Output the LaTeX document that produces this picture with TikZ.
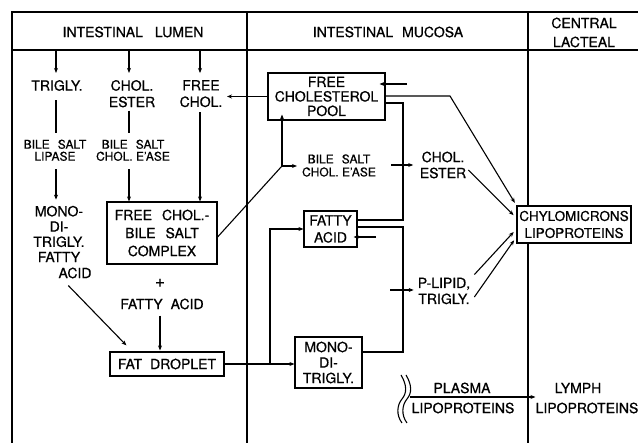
\documentclass[tikz,border=0pt]{standalone}
\usepackage{fontspec}
\setmainfont{TeX Gyre Heros}[FakeBold=0.7]
\usetikzlibrary{arrows.meta,calc}
\newcommand{\wgap}{\hspace{8pt}}
\begin{document}
\begin{tikzpicture}[x=1pt,y=-1pt,
  every node/.style={inner sep=0pt, align=center, font=\fontsize{14}{15}\selectfont},
  small/.style={font=\fontsize{12}{12}\selectfont},
  box/.style={draw, line width=1.2pt, fill=white, inner sep=0pt},
  ln/.style={line width=1.1pt},
  arr/.style={ln, -{Stealth[length=5pt,width=4pt]}},
]
\fill[white] (0,0) rectangle (638,443);
\useasboundingbox (0,0) rectangle (638,443);

% frame
\draw[ln] (12,443) -- (12,12) -- (638,12);
\draw[ln] (12,50) -- (638,50);
\draw[ln] (247,12) -- (247,443);
\draw[ln] (528,12) -- (528,443);

% headers
\node (hl) at (133,32) {INTESTINAL\hspace{12pt}LUMEN};
\node (hm) at (388,32) {INTESTINAL\hspace{9pt}MUCOSA};
\node[font=\fontsize{14}{19}\selectfont] (hc) at (584,32.5) {CENTRAL\\LACTEAL};

% lumen
\node (trigly) at (57,85.5) {TRIGLY.};
\node[font=\fontsize{14}{16.5}\selectfont] (cest1) at (132,93.7) {CHOL.\\ESTER};
\node[font=\fontsize{14}{16.5}\selectfont] (fchol) at (201,93.7) {FREE\\CHOL.};
\node[small] (bsl) at (55,150.3) {BILE\wgap SALT\\LIPASE};
\node[small] (bsc) at (133,150.3) {BILE\wgap SALT\\CHOL.\ E'ASE};
\node[font=\fontsize{14}{15.3}\selectfont] (mdt) at (59,234) {MONO-\\DI-\\TRIGLY.\\FATTY};
\node (acid) at (75,273) {ACID};
\node[box, minimum width=110pt, minimum height=62pt, font=\fontsize{14}{18}\selectfont] (cplx) at (162,233) {FREE\hspace{10pt}CHOL.-\\BILE\hspace{10pt}SALT\\COMPLEX};
\node[font=\fontsize{17}{17}\selectfont] (plus) at (160,283) {+};
\node (fa) at (162,304) {FATTY\wgap ACID};
\node[box, minimum width=114pt, minimum height=24pt] (drop) at (167,364) {FAT\wgap DROPLET};

% mucosa
\node[box, minimum width=117pt, minimum height=47pt, font=\fontsize{14}{14.5}\selectfont] (pool) at (326.5,96.5) {FREE\\CHOLESTEROL\\POOL};
\node[font=\fontsize{12}{13}\selectfont] (bsm) at (339,165.5) {BILE\wgap SALT\\CHOL.\ E'ASE};
\node[box, minimum width=53pt, minimum height=36pt, font=\fontsize{14}{17}\selectfont] (fatty) at (330.5,229) {FATTY\\ACID};
\node[box, minimum width=67pt, minimum height=51pt, font=\fontsize{14}{15.5}\selectfont] (mono) at (328.5,362.5) {MONO-\\DI-\\TRIGLY.};
\node[font=\fontsize{14}{16}\selectfont] (cester) at (443,165) {CHOL.\\ESTER};
\node[font=\fontsize{14}{16}\selectfont] (plipid) at (444,291) {P-LIPID,\\TRIGLY.};
\node[box, minimum width=114pt, minimum height=37pt, font=\fontsize{13.5}{17}\selectfont] (chylo) at (574,224.5) {CHYLOMICRONS\\LIPOPROTEINS};
\node (plasma) at (462,388) {PLASMA};
\node (plipo) at (463,408) {LIPOPROTEINS};
\node (lymph) at (578,388) {LYMPH};
\node (llipo) at (587,408) {LIPOPROTEINS};

% coordinates
\coordinate (h1) at (56,50);
\coordinate (h2) at (129,50);
\coordinate (h3) at (200,50);
\coordinate (j1) at (270,364);
\coordinate (j2) at (282,166);
\coordinate (pin) at (407,84);
\coordinate (fin) at (376,237);
\coordinate (k1) at (450,96);
\coordinate (v1) at (403,103);
\coordinate (v2) at (403,220);
\coordinate (v3) at (403,227);
\coordinate (v4) at (403,352);
\coordinate (c1) at (391,165);
\coordinate (c2) at (390,290);
\coordinate (w) at (410,397);

% lumen connectors
\draw[arr, shorten >=7pt] (h1) -- (h1 |- trigly.north);
\draw[arr, shorten >=7pt] (h2) -- (h2 |- cest1.north);
\draw[arr, shorten >=7pt] (h3) -- (h3 |- fchol.north);
\draw[ln, shorten <=9pt, shorten >=7pt] (h1 |- trigly.south) -- (h1 |- bsl.north);
\draw[ln, shorten <=3pt, shorten >=7pt] (h2 |- cest1.south) -- (h2 |- bsc.north);
\draw[arr, shorten <=5pt] (h3 |- fchol.south) -- (h3 |- cplx.north);
\draw[arr, shorten <=8pt, shorten >=6pt] (h1 |- bsl.south) -- (h1 |- mdt.north);
\draw[arr, shorten <=8pt] (h2 |- bsc.south) -- (h2 |- cplx.north);
\draw[arr] ([shift={(10pt,-7pt)}]acid.south west) -- ([shift={(17pt,6pt)}]drop.north west);
\draw[arr, shorten <=6pt, shorten >=1pt] (plus |- fa.south) -- (plus |- drop.north);
\draw[arr, shorten >=4.5pt] (pool.west) -- (fchol.east |- pool.west);
\draw[ln] ([yshift=-4pt]cplx.east) -- (j2);

% mucosa connectors
\draw[arr, shorten >=5pt] (j2) -- (j2 -| bsm.west);
\draw[arr, shorten >=-6pt] (j2) -- (j2 |- pool.south);
\draw[arr] (drop.east) -- (drop.east -| mono.west);
\draw[arr] (j1) |- (fatty.west);
\draw[arr, shorten >=-6pt] (pin) -- (pin -| pool.east);
\draw[arr, shorten >=-4pt] (fin) -- (fin -| fatty.east);
\draw[arr, shorten >=3pt] (k1 -| pool.east) -- (k1) -- (chylo.north west);
\draw[ln] (v1 -| pool.east) -- (v1) -- (v2) -- (v2 -| fatty.east);
\draw[ln] (v3 -| fatty.east) -- (v3) -- (v4) -- (v4 -| mono.east);
\draw[arr, shorten >=6.5pt] (c1) -- (c1 -| cester.west);
\draw[arr, shorten >=4pt] (c2) -- (c2 -| plipid.west);
\draw[arr, shorten >=4pt] ([shift={(2pt,-5pt)}]cester.east) -- ([yshift=6.5pt]chylo.west);
\draw[arr, shorten >=4pt] ([shift={(4pt,3pt)}]plipid.north east) -- ([yshift=-4.5pt]chylo.west);
\draw[arr, shorten >=4pt] ([shift={(4pt,-6pt)}]plipid.east) -- ([yshift=-12.5pt]chylo.west);

% plasma
\draw[ln] (401,375) .. controls (407,385) and (407,393) .. (402,399) .. controls (397,405) and (396,415) .. (402,423);
\draw[ln] (406,375) .. controls (412,385) and (412,393) .. (407,399) .. controls (402,405) and (401,415) .. (407,423);
\draw[arr] (w) -- (w -| llipo.west);
\end{tikzpicture}
\end{document}
